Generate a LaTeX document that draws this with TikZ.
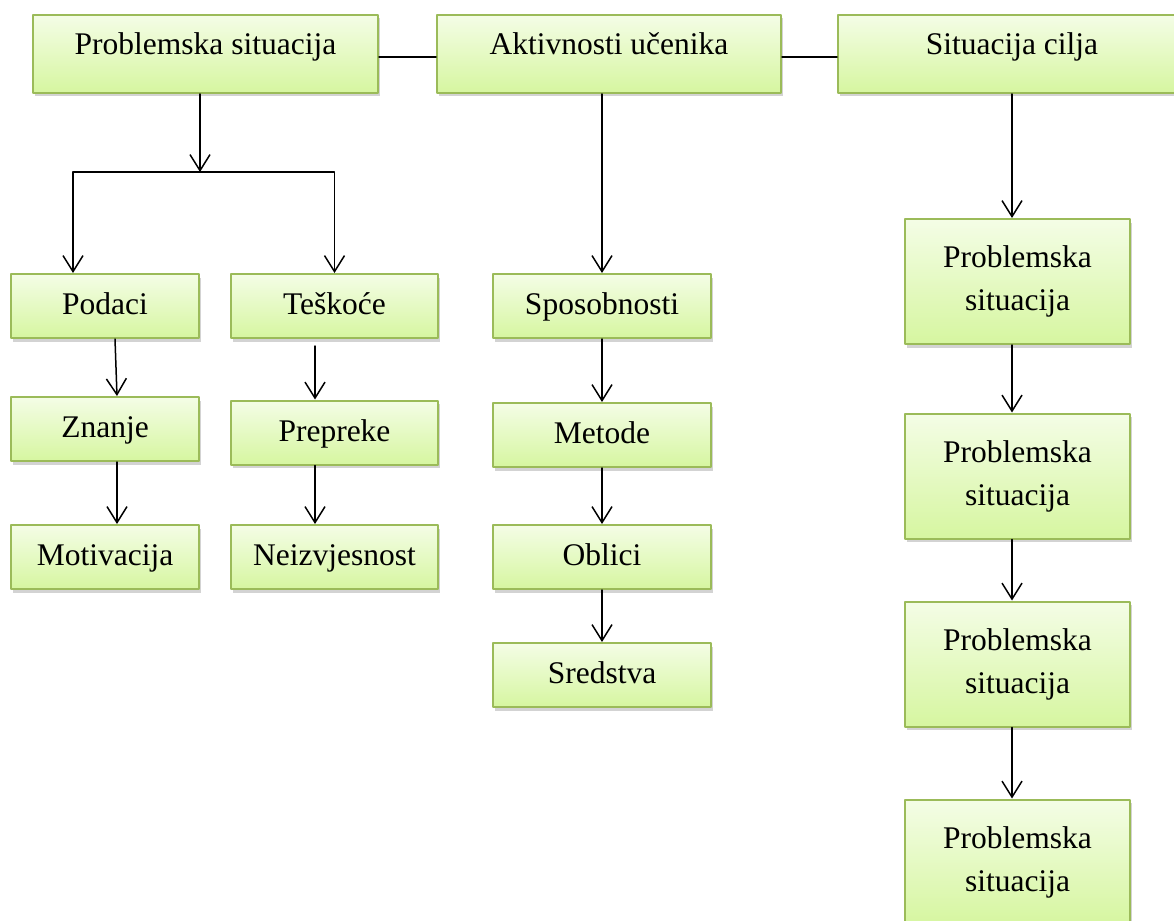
\documentclass[tikz,border=0pt]{standalone}
\usepackage{fontspec}
\setmainfont{Liberation Serif}
\usetikzlibrary{arrows.meta,shadows}

\definecolor{okvir}{RGB}{155,187,89}
\definecolor{svijetla}{RGB}{244,253,230}
\definecolor{tamna}{RGB}{214,246,160}

\begin{document}
\begin{tikzpicture}[x=1pt,y=-1pt,>={Straight Barb[length=16pt,width=20pt]},
    line cap=round,line join=round,
    kutija/.style={draw=okvir,line width=2pt,top color=svijetla,
      bottom color=tamna,inner sep=0pt,align=center,
      font=\fontsize{31.5}{43}\selectfont,
      drop shadow={shadow xshift=1.5pt,shadow yshift=-3.5pt,opacity=.35}},
    gornja/.style={kutija,minimum height=78pt,text height=22pt,text depth=20pt},
    mala/.style={kutija,minimum height=64pt,text height=23pt,text depth=6pt},
    visoka/.style={kutija,minimum width=225pt,minimum height=125pt},
    veza/.style={line width=1.5pt}]
    \useasboundingbox (0,0) rectangle (1174,920);

    % The three headings and the line that joins them.
    \node[gornja,minimum width=345pt] (problem) at (205.5,54) {Problemska situacija};
    \node[gornja,minimum width=344pt] (aktivnosti) at (609,54) {Aktivnosti učenika};
    \node[gornja,minimum width=348pt] (cilj) at (1012,54) {Situacija cilja};

    \draw[veza] ([yshift=-3pt]problem.east) -- ([yshift=-3pt]aktivnosti.west);
    \draw[veza] ([yshift=-3pt]aktivnosti.east) -- ([yshift=-3pt]cilj.west);

    % Left branch: two columns under the problem situation.
    \node[mala,minimum width=188pt] (podaci) at (105,306) {Podaci};
    \node[mala,minimum width=207pt] (teskoce) at (334.5,306) {Teškoće};
    \node[mala,minimum width=188pt] (znanje) at (105,429) {Znanje};
    \node[mala,minimum width=207pt] (prepreke) at (334.5,432.5) {Prepreke};
    \node[mala,minimum width=188pt] (motivacija) at (105,557) {Motivacija};
    \node[mala,minimum width=207pt] (neizvjesnost) at (334.5,557) {Neizvjesnost};

    \coordinate (grana) at (200,172);
    \draw[veza,->] (problem.south -| grana) -- (grana);
    \draw[veza,->] (grana) -| ([xshift=-32pt]podaci.north);
    \draw[veza,->] (grana) -| (teskoce.north);

    \draw[veza,->] ([xshift=10pt]podaci.south) -- ([xshift=12pt]znanje.north);
    \draw[veza,->] ([xshift=12pt]znanje.south) -- ([xshift=12pt]motivacija.north);
    \draw[veza,->] ([xshift=-19.5pt,yshift=-7pt]teskoce.south)
      -- ([xshift=-19.5pt]prepreke.north);
    \draw[veza,->] ([xshift=-19.5pt]prepreke.south)
      -- ([xshift=-19.5pt]neizvjesnost.north);

    % Middle branch.
    \node[mala,minimum width=218pt] (sposobnosti) at (602,306) {Sposobnosti};
    \node[mala,minimum width=218pt] (metode) at (602,435) {Metode};
    \node[mala,minimum width=218pt] (oblici) at (602,557) {Oblici};
    \node[mala,minimum width=218pt] (sredstva) at (602,675) {Sredstva};

    \draw[veza,->] (aktivnosti.south -| sposobnosti.north) -- (sposobnosti.north);
    \draw[veza,->] (sposobnosti.south) -- (metode.north);
    \draw[veza,->] (metode.south) -- (oblici.north);
    \draw[veza,->] (oblici.south) -- (sredstva.north);

    % Right branch: the chain of problem situations.
    \node[visoka] (situacija1) at (1017.5,281.5) {Problemska\\situacija};
    \node[visoka] (situacija2) at (1017.5,476) {Problemska\\situacija};
    \node[visoka] (situacija3) at (1017.5,664) {Problemska\\situacija};
    \node[visoka] (situacija4) at (1017.5,862) {Problemska\\situacija};

    \draw[veza,->] (cilj.south) -- (cilj.south |- situacija1.north);
    \draw[veza,->] (situacija1.south -| cilj.south) -- (situacija2.north -| cilj.south);
    \draw[veza,->] (situacija2.south -| cilj.south) -- (situacija3.north -| cilj.south);
    \draw[veza,->] (situacija3.south -| cilj.south) -- (situacija4.north -| cilj.south);
  \end{tikzpicture}
\end{document}
